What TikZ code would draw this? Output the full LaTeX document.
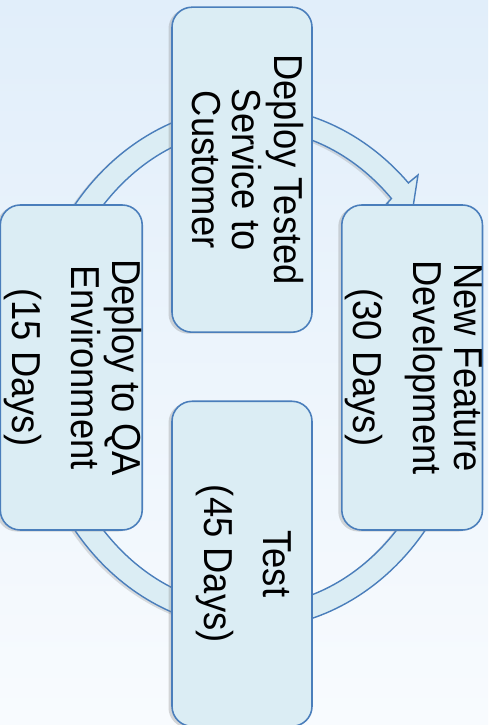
\documentclass[tikz,border=0pt]{standalone}
\usepackage{fontspec}
\usepackage{graphicx}
\newfontfamily\stagefont{Liberation Sans}[FakeStretch=0.9]
\usetikzlibrary{positioning}
\usetikzlibrary{shadows}
\definecolor{boxfill}{RGB}{219,237,244}
\definecolor{boxline}{RGB}{74,126,187}
\definecolor{bgtop}{RGB}{225,238,250}
\definecolor{bgbot}{RGB}{248,251,254}
\newcommand{\sidetext}[1]{\rotatebox{-90}{\begin{tabular}{@{}c@{}}#1\end{tabular}}}

\begin{document}
\begin{tikzpicture}[
  node distance=1cm,
  stagebox/.style={draw=boxline,line width=0.9pt,fill=boxfill,rounded corners=0.4cm,
    minimum width=2.8cm,minimum height=6.5cm,inner sep=0pt,
    font=\stagefont\fontsize{23}{22.8}\selectfont,
    drop shadow={shadow xshift=-0.07cm,shadow yshift=-0.03cm,opacity=0.3}},
  ringarrow/.style={draw=boxline,line width=0.8pt,fill=boxfill,
    drop shadow={shadow xshift=-0.06cm,shadow yshift=-0.03cm,opacity=0.25}}
]

\fill[top color=bgtop,bottom color=bgbot] (-4.84,-7.15) rectangle (4.92,7.35);
\useasboundingbox (-4.84,-7.15) rectangle (4.92,7.35);

\coordinate (hub) at (0,0);
\coordinate (ringc) at (0.16,0);

\draw[ringarrow,shift={(ringc)}]
  (30:4.48 and 5.22) arc[start angle=30,end angle=-315,x radius=4.48,y radius=5.22]
  -- (3.36,3.85) -- (3.22,2.95) -- (2.74,3.28)
  -- (-315:4.0 and 4.78) arc[start angle=-315,end angle=30,x radius=4.0,y radius=4.78]
  -- cycle;

\node[stagebox, above=0.69cm of hub] (deploy) {\sidetext{Deploy Tested\\Service to\\Customer}};
\node[stagebox, right=1.98cm of hub] (newdev) {\sidetext{New Feature\\Development\\[0.36cm](30 Days)}};
\node[stagebox, below=0.66cm of hub] (test) {\sidetext{Test\\[0.36cm](45 Days)}};
\node[stagebox, left=1.98cm of hub] (qaenv) {\sidetext{Deploy to QA\\Environment\\[0.36cm](15 Days)}};

\end{tikzpicture}
\end{document}
